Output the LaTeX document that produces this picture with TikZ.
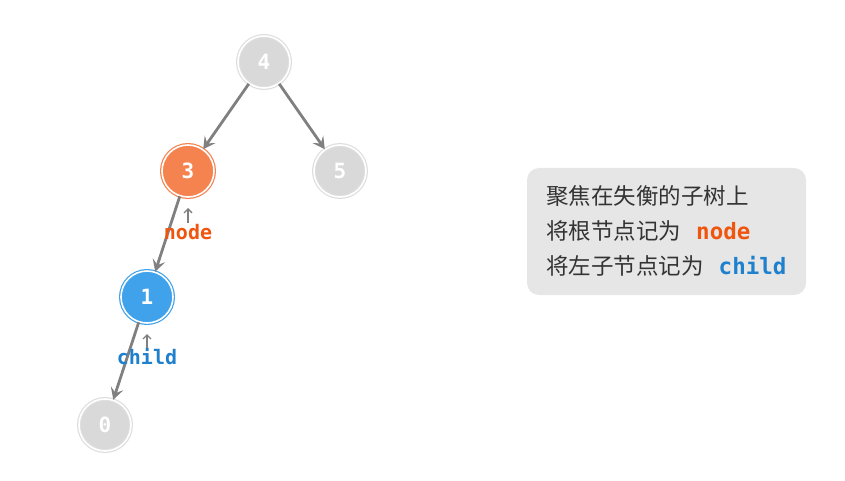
\documentclass[tikz,border=0pt]{standalone}
\usepackage{fontspec}
\setmonofont{DejaVu Sans Mono}
\newfontfamily\cjk{Noto Sans CJK SC}
\usepackage{xcolor}
\usetikzlibrary{arrows.meta, positioning}

\definecolor{idlefill}{HTML}{D9D9D9}
\definecolor{idlering}{HTML}{DEDEDE}
\definecolor{nodefill}{HTML}{F5834F}
\definecolor{childfill}{HTML}{40A2EA}
\definecolor{nodetext}{HTML}{F0550F}
\definecolor{childtext}{HTML}{1F80CE}
\definecolor{edgegray}{HTML}{808080}
\definecolor{boxfill}{HTML}{E6E6E6}
\definecolor{boxtext}{HTML}{333333}

\begin{document}
\begin{tikzpicture}[x=1pt, y=-1pt,
    treenode/.style={circle, minimum size=52pt, inner sep=0pt, line width=1.2pt,
        double=white, double distance=1.6pt, text=white,
        font=\ttfamily\bfseries\fontsize{21}{21}\selectfont},
    idle/.style={treenode, fill=idlefill, draw=idlering},
    edge/.style={draw=edgegray, line width=2.8pt, -{Stealth[length=12pt, width=13pt, inset=5pt]}},
    ptr/.style={draw=edgegray, line width=1.4pt, -{Straight Barb[length=4pt, width=8pt]}},
    tag/.style={inner sep=1pt, font=\ttfamily\bfseries\fontsize{20}{20}\selectfont},
    boxline/.style={anchor=west, inner sep=0pt, text=boxtext, font=\fontsize{22.5}{22.5}\selectfont}]

    % Canvas
    \useasboundingbox (0,0) rectangle (845,481);

    % Tree nodes
    \node[idle] (n4) at (264,62) {4};
    \node[treenode, fill=nodefill, draw=nodefill] (n3) at (188,171) {3};
    \node[idle] (n5) at (340,171) {5};
    \node[treenode, fill=childfill, draw=childfill] (n1) at (147,297) {1};
    \node[idle] (n0) at (105,425) {0};

    % Edges
    \foreach \a/\b in {n4/n3, n4/n5, n3/n1, n1/n0}
        \draw[edge] (\a) -- (\b);

    % Pointer labels
    \node[tag, text=nodetext] (lblnode) at (188,232) {node};
    \coordinate (ptrnode) at (188,208);
    \draw[ptr] (lblnode.north) -- (ptrnode);
    \node[tag, text=childtext] (lblchild) at (147,357) {child};
    \coordinate (ptrchild) at (147,334);
    \draw[ptr] (lblchild.north) -- (ptrchild);

    % Info box
    \fill[boxfill, rounded corners=12pt] (527,168) rectangle (806,295);
    \node[boxline] (line1) at (546,196) {\cjk 聚焦在失衡的子树上};
    \node[boxline] (line2) at (546,231) {{\cjk 将根节点记为}\hspace{15pt}{\ttfamily\bfseries\color{nodetext}node}};
    \node[boxline] (line3) at (546,266) {{\cjk 将左子节点记为}\hspace{15pt}{\ttfamily\bfseries\color{childtext}child}};
\end{tikzpicture}
\end{document}
